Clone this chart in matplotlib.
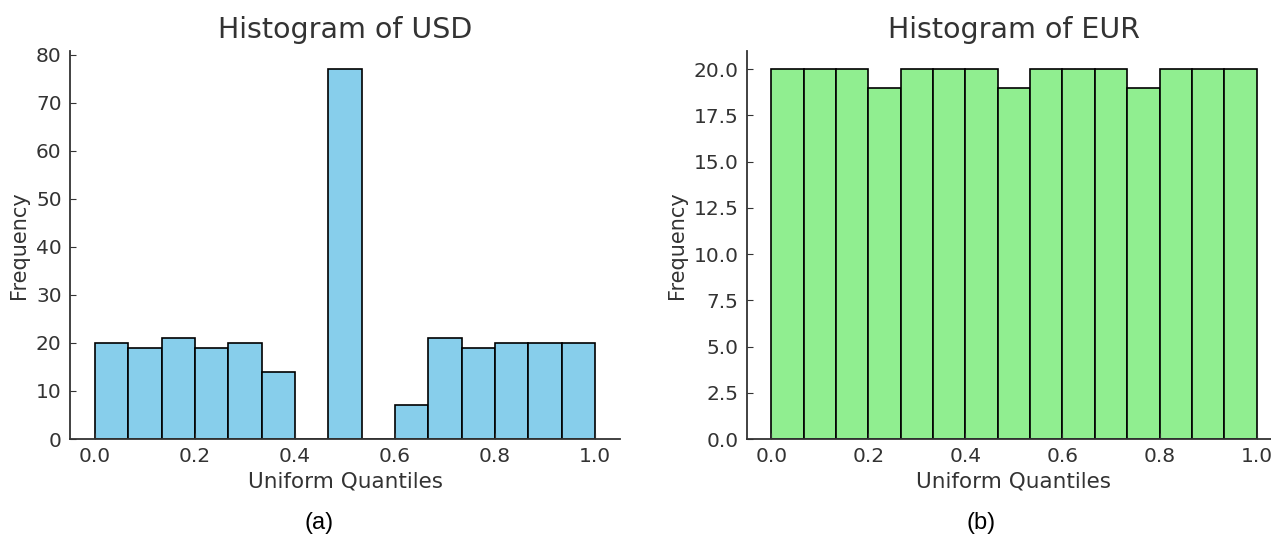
import matplotlib
matplotlib.use("Agg")
import matplotlib.pyplot as plt
import numpy as np

# 15 equal bins on [0, 1]
bin_edges = np.linspace(0.0, 1.0, 16)
usd_counts = [20, 19, 21, 19, 20, 14, 0, 77, 0, 7, 21, 19, 20, 20, 20]
eur_counts = [20, 20, 20, 19, 20, 20, 20, 19, 20, 20, 20, 19, 20, 20, 20]

panels = [
    ("Histogram of USD", usd_counts, "skyblue", "(a)"),
    ("Histogram of EUR", eur_counts, "lightgreen", "(b)"),
]

txt = "#333333"
plt.rcParams["font.family"] = "DejaVu Sans"

fig = plt.figure(figsize=(12.71, 5.4), dpi=100)
rects = [[0.0551, 0.187, 0.4327, 0.7194], [0.5877, 0.187, 0.4201, 0.7194]]
cap_x = [0.251, 0.772]

centers = (bin_edges[:-1] + bin_edges[1:]) / 2

for rect, (title, counts, color, cap), cx in zip(rects, panels, cap_x):
    ax = fig.add_axes(rect)
    ax.hist(centers, bins=bin_edges, weights=counts, color=color,
            edgecolor="black", linewidth=1.2)
    ax.set_title(title, fontsize=20.5, color=txt, pad=9)
    ax.set_xlabel("Uniform Quantiles", fontsize=15.5, color=txt, labelpad=4)
    ax.set_ylabel("Frequency", fontsize=15, color=txt, labelpad=5)
    ax.spines["top"].set_visible(False)
    ax.spines["right"].set_visible(False)
    for s in ("left", "bottom"):
        ax.spines[s].set_color(txt)
        ax.spines[s].set_linewidth(1.3)
    ax.tick_params(axis="both", direction="in", length=4, labelsize=14.5,
                   colors=txt, pad=6)
    ax.set_xticks([0.0, 0.2, 0.4, 0.6, 0.8, 1.0])
    fig.text(cx, 0.032, cap, ha="center", va="center", fontsize=17,
             family="Liberation Sans", color="black")

fig.savefig("out.png", dpi=100)
